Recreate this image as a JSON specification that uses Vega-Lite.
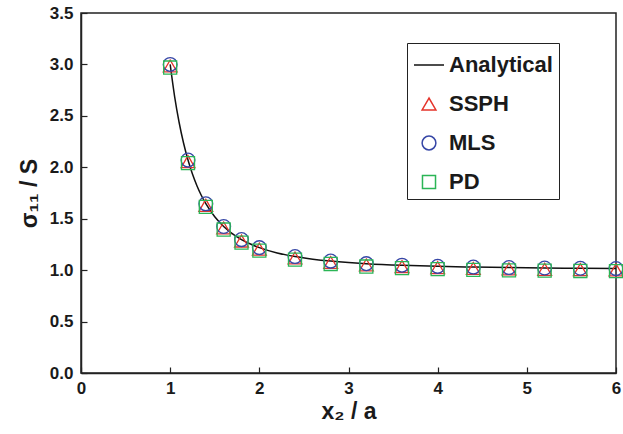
{
  "$schema": "https://vega.github.io/schema/vega-lite/v6.json",
  "autosize": {"type": "none"},
  "padding": {"left": 81, "top": 13, "right": 7, "bottom": 61},
  "width": 535,
  "height": 360,
  "background": "white",
  "config": {
    "font": "Liberation Sans",
    "view": {"stroke": "#222222", "strokeWidth": 1.5},
    "axis": {
      "domainColor": "#222222",
      "domainWidth": 1.5,
      "tickColor": "#222222",
      "tickWidth": 1.2,
      "tickSize": -6,
      "grid": false,
      "labelFlush": false,
      "labelFont": "Liberation Sans",
      "labelFontWeight": "bold",
      "labelFontSize": 17,
      "labelColor": "#1a1a1a",
      "titleFont": "Liberation Sans",
      "titleFontWeight": "bold",
      "titleFontSize": 23,
      "titleColor": "#1a1a1a"
    },
    "legend": {
      "labelFont": "Liberation Sans",
      "labelFontWeight": "bold",
      "labelFontSize": 22,
      "labelColor": "#1a1a1a"
    }
  },
  "data": {
    "values": [
      {"x": 1.0, "value": 3.0, "series": "Analytical"},
      {"x": 1.05, "value": 2.6876, "series": "Analytical"},
      {"x": 1.1, "value": 2.4377, "series": "Analytical"},
      {"x": 1.15, "value": 2.2357, "series": "Analytical"},
      {"x": 1.2, "value": 2.0706, "series": "Analytical"},
      {"x": 1.25, "value": 1.9344, "series": "Analytical"},
      {"x": 1.3, "value": 1.8211, "series": "Analytical"},
      {"x": 1.35, "value": 1.726, "series": "Analytical"},
      {"x": 1.4, "value": 1.6456, "series": "Analytical"},
      {"x": 1.5, "value": 1.5185, "series": "Analytical"},
      {"x": 1.6, "value": 1.4242, "series": "Analytical"},
      {"x": 1.7, "value": 1.3526, "series": "Analytical"},
      {"x": 1.8, "value": 1.2972, "series": "Analytical"},
      {"x": 1.9, "value": 1.2536, "series": "Analytical"},
      {"x": 2.0, "value": 1.2188, "series": "Analytical"},
      {"x": 2.2, "value": 1.1673, "series": "Analytical"},
      {"x": 2.4, "value": 1.132, "series": "Analytical"},
      {"x": 2.6, "value": 1.1068, "series": "Analytical"},
      {"x": 2.8, "value": 1.0882, "series": "Analytical"},
      {"x": 3.0, "value": 1.0741, "series": "Analytical"},
      {"x": 3.2, "value": 1.0631, "series": "Analytical"},
      {"x": 3.6, "value": 1.0475, "series": "Analytical"},
      {"x": 4.0, "value": 1.0371, "series": "Analytical"},
      {"x": 4.4, "value": 1.0298, "series": "Analytical"},
      {"x": 4.8, "value": 1.0245, "series": "Analytical"},
      {"x": 5.2, "value": 1.0205, "series": "Analytical"},
      {"x": 5.6, "value": 1.0175, "series": "Analytical"},
      {"x": 6.0, "value": 1.015, "series": "Analytical"},

      {"x": 1.0, "value": 2.985, "series": "SSPH"},
      {"x": 1.2, "value": 2.055, "series": "SSPH"},
      {"x": 1.4, "value": 1.63, "series": "SSPH"},
      {"x": 1.6, "value": 1.41, "series": "SSPH"},
      {"x": 1.8, "value": 1.283, "series": "SSPH"},
      {"x": 2.0, "value": 1.205, "series": "SSPH"},
      {"x": 2.4, "value": 1.118, "series": "SSPH"},
      {"x": 2.8, "value": 1.075, "series": "SSPH"},
      {"x": 3.2, "value": 1.05, "series": "SSPH"},
      {"x": 3.6, "value": 1.035, "series": "SSPH"},
      {"x": 4.0, "value": 1.025, "series": "SSPH"},
      {"x": 4.4, "value": 1.017, "series": "SSPH"},
      {"x": 4.8, "value": 1.012, "series": "SSPH"},
      {"x": 5.2, "value": 1.008, "series": "SSPH"},
      {"x": 5.6, "value": 1.005, "series": "SSPH"},
      {"x": 6.0, "value": 1.003, "series": "SSPH"},

      {"x": 1.0, "value": 3.0, "series": "MLS"},
      {"x": 1.2, "value": 2.07, "series": "MLS"},
      {"x": 1.4, "value": 1.645, "series": "MLS"},
      {"x": 1.6, "value": 1.424, "series": "MLS"},
      {"x": 1.8, "value": 1.297, "series": "MLS"},
      {"x": 2.0, "value": 1.219, "series": "MLS"},
      {"x": 2.4, "value": 1.132, "series": "MLS"},
      {"x": 2.8, "value": 1.088, "series": "MLS"},
      {"x": 3.2, "value": 1.063, "series": "MLS"},
      {"x": 3.6, "value": 1.048, "series": "MLS"},
      {"x": 4.0, "value": 1.037, "series": "MLS"},
      {"x": 4.4, "value": 1.03, "series": "MLS"},
      {"x": 4.8, "value": 1.025, "series": "MLS"},
      {"x": 5.2, "value": 1.021, "series": "MLS"},
      {"x": 5.6, "value": 1.018, "series": "MLS"},
      {"x": 6.0, "value": 1.015, "series": "MLS"},

      {"x": 1.0, "value": 2.97, "series": "PD"},
      {"x": 1.2, "value": 2.04, "series": "PD"},
      {"x": 1.4, "value": 1.615, "series": "PD"},
      {"x": 1.6, "value": 1.395, "series": "PD"},
      {"x": 1.8, "value": 1.268, "series": "PD"},
      {"x": 2.0, "value": 1.19, "series": "PD"},
      {"x": 2.4, "value": 1.103, "series": "PD"},
      {"x": 2.8, "value": 1.06, "series": "PD"},
      {"x": 3.2, "value": 1.035, "series": "PD"},
      {"x": 3.6, "value": 1.02, "series": "PD"},
      {"x": 4.0, "value": 1.01, "series": "PD"},
      {"x": 4.4, "value": 1.003, "series": "PD"},
      {"x": 4.8, "value": 0.998, "series": "PD"},
      {"x": 5.2, "value": 0.995, "series": "PD"},
      {"x": 5.6, "value": 0.992, "series": "PD"},
      {"x": 6.0, "value": 0.99, "series": "PD"}
    ]
  },
  "encoding": {
    "x": {
      "field": "x", "type": "quantitative",
      "scale": {"domain": [0, 6], "nice": false},
      "axis": {"values": [0, 1, 2, 3, 4, 5, 6], "format": "d", "labelPadding": 13, "title": "x₂ / a", "titlePadding": 4}
    },
    "y": {
      "field": "value", "type": "quantitative",
      "scale": {"domain": [0, 3.5], "nice": false},
      "axis": {"values": [0, 0.5, 1, 1.5, 2, 2.5, 3, 3.5], "format": ".1f", "labelPadding": 14, "title": "σ₁₁ / S", "titlePadding": 8}
    },
    "color": {
      "field": "series", "type": "nominal",
      "scale": {"domain": ["Analytical", "SSPH", "MLS", "PD"], "range": ["#111111", "#e5332a", "#3646a6", "#2bb556"]},
      "legend": {
        "title": null,
        "orient": "none",
        "legendX": 326,
        "legendY": 30,
        "direction": "vertical",
        "strokeColor": "#222222",
        "fillColor": "white",
        "padding": 6,
        "rowPadding": 17,
        "labelOffset": 4,
        "symbolStrokeWidth": 1.5,
        "symbolFillColor": "transparent"
      }
    }
  },
  "layer": [
    {
      "transform": [{"filter": "datum.series === 'Analytical'"}],
      "mark": {"type": "line", "strokeWidth": 1.5, "interpolate": "monotone"}
    },
    {
      "transform": [{"filter": "datum.series !== 'Analytical'"}],
      "mark": {"type": "point", "filled": false, "strokeWidth": 1.3, "opacity": 1},
      "encoding": {
        "shape": {
          "field": "series", "type": "nominal",
          "scale": {"domain": ["Analytical", "SSPH", "MLS", "PD"], "range": ["stroke", "triangle-up", "circle", "square"]},
          "legend": {
            "title": null,
            "orient": "none",
            "legendX": 326,
            "legendY": 30,
            "direction": "vertical",
            "strokeColor": "#222222",
            "fillColor": "white",
            "padding": 6,
            "rowPadding": 17,
            "labelOffset": 4,
            "symbolStrokeWidth": 1.5,
            "symbolFillColor": "transparent"
          }
        },
        "size": {
          "field": "series", "type": "nominal",
          "scale": {"type": "ordinal", "domain": ["Analytical", "SSPH", "MLS", "PD"], "range": [900, 190, 190, 170]},
          "legend": {
            "title": null,
            "orient": "none",
            "legendX": 326,
            "legendY": 30,
            "direction": "vertical",
            "strokeColor": "#222222",
            "fillColor": "white",
            "padding": 6,
            "rowPadding": 17,
            "labelOffset": 4,
            "symbolStrokeWidth": 1.5,
            "symbolFillColor": "transparent"
          }
        }
      }
    }
  ]
}
